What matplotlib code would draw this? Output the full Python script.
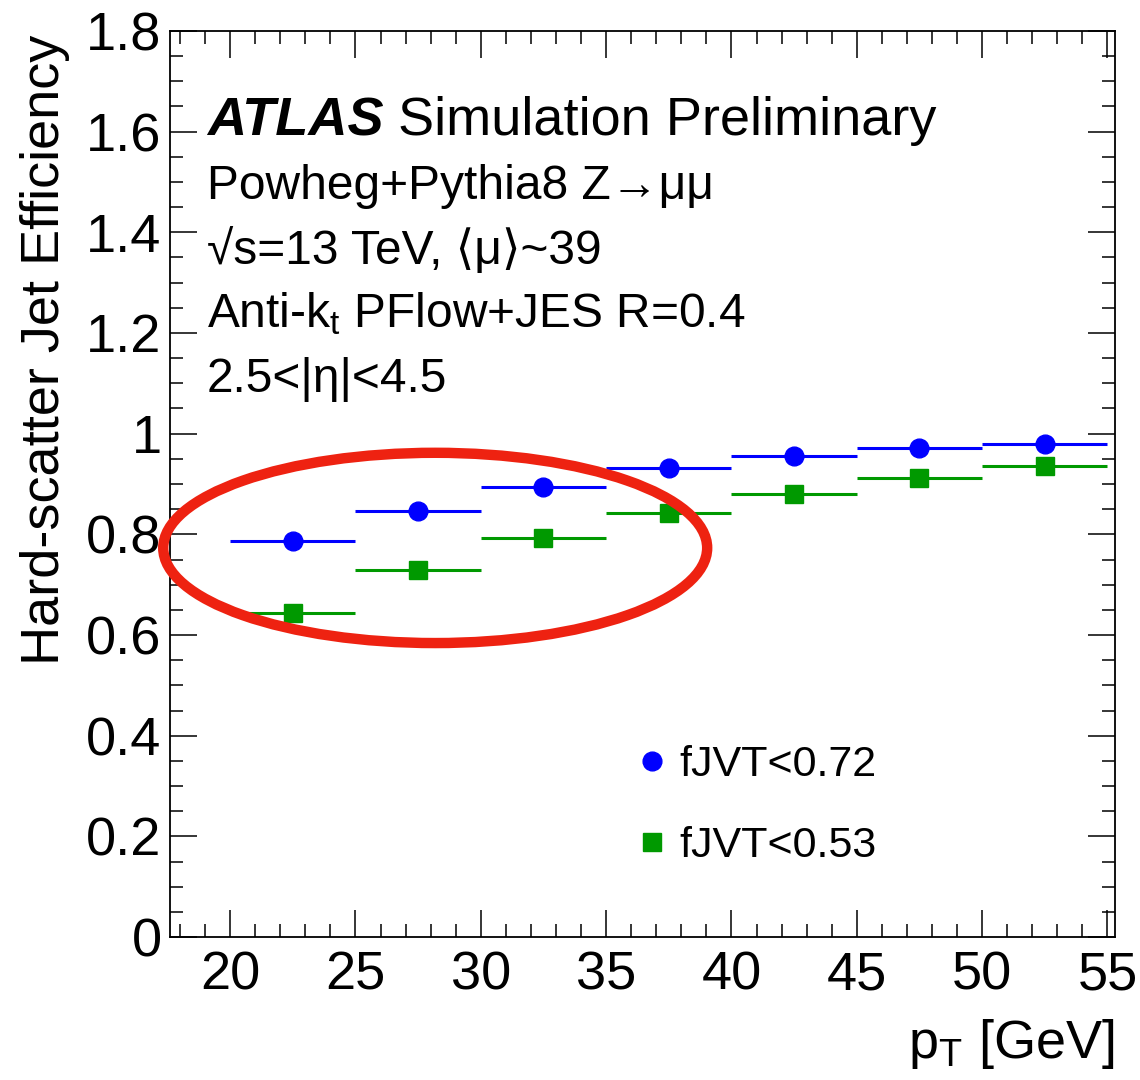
import matplotlib
matplotlib.use("Agg")
import matplotlib.pyplot as plt
from matplotlib.patches import Ellipse
from matplotlib.lines import Line2D
from matplotlib.ticker import MultipleLocator

plt.rcParams['font.family'] = ['Liberation Sans', 'DejaVu Sans']
plt.rcParams['mathtext.fontset'] = 'custom'
plt.rcParams['mathtext.rm'] = 'Liberation Sans'
plt.rcParams['mathtext.it'] = 'Liberation Sans:italic'

# ---- data ----
bin_lo = [20, 25, 30, 35, 40, 45, 50]
bin_hi = [25, 30, 35, 40, 45, 50, 55]
eff_072 = [0.787, 0.847, 0.895, 0.932, 0.956, 0.972, 0.980]
eff_053 = [0.644, 0.730, 0.793, 0.843, 0.881, 0.911, 0.936]
label_072 = "fJVT<0.72"
label_053 = "fJVT<0.53"
x_ticks = [20, 25, 30, 35, 40, 45, 50, 55]
y_ticks = [0, 0.2, 0.4, 0.6, 0.8, 1.0, 1.2, 1.4, 1.6, 1.8]
y_ticklabels = ["0", "0.2", "0.4", "0.6", "0.8", "1", "1.2", "1.4", "1.6", "1.8"]
# highlight ellipse (center x, center y, width, height) in data units
ell_cx, ell_cy, ell_w, ell_h = 28.18, 0.773, 21.7, 0.378

centers = [(a + b) / 2 for a, b in zip(bin_lo, bin_hi)]
half = [(b - a) / 2 for a, b in zip(bin_lo, bin_hi)]

fig = plt.figure(figsize=(11.4, 10.8), dpi=100)
ax = fig.add_axes([170/1140, 1 - 937/1080, 945/1140, 906/1080])

blue = '#0000ff'
green = '#009900'
ax.errorbar(centers, eff_072, xerr=half, fmt='o', color=blue, ms=13.5,
            elinewidth=2.2, capsize=0, zorder=3)
ax.errorbar(centers, eff_053, xerr=half, fmt='s', color=green, ms=13.5,
            elinewidth=2.2, capsize=0, zorder=3)

ax.set_xlim(17.6, 55.3)
ax.set_ylim(0, 1.8)
ax.set_xticks(x_ticks)
ax.set_yticks(y_ticks)
ax.set_yticklabels(y_ticklabels)
ax.xaxis.set_minor_locator(MultipleLocator(1))
ax.yaxis.set_minor_locator(MultipleLocator(0.05))
ax.tick_params(which='both', direction='in', top=True, right=True, width=1.1)
ax.tick_params(which='major', length=19.5, labelsize=39)
ax.tick_params(which='minor', length=9.5)
ax.tick_params(axis='x', which='major', pad=10)
ax.tick_params(axis='y', which='major', pad=6)
for s in ax.spines.values():
    s.set_linewidth(1.3)

ax.text(-0.132, 0.996, "Hard-scatter Jet Efficiency", rotation=90,
        ha='center', va='top', fontsize=39, transform=ax.transAxes)
ax.text(1.0, -0.1336, r"$\mathrm{p}_{\mathrm{T}}$ [GeV]", ha='right', va='baseline',
        fontsize=39, transform=ax.transAxes)

tx = 0.039
ax.text(tx, 0.885, "ATLAS", fontsize=39, fontweight='bold', fontstyle='italic',
        transform=ax.transAxes, va='baseline')
ax.text(0.241, 0.885, "Simulation Preliminary", fontsize=39,
        transform=ax.transAxes, va='baseline')
ax.text(tx, 0.815, "Powheg+Pythia8 Z→μμ", fontsize=34.5,
        transform=ax.transAxes, va='baseline')
ax.text(tx, 0.743, "√s=13 TeV, ⟨μ⟩~39", fontsize=34.5,
        transform=ax.transAxes, va='baseline')
ax.text(tx, 0.673, r"Anti-$\mathrm{k}_{\mathrm{t}}$ PFlow+JES R=0.4", fontsize=34.5,
        transform=ax.transAxes, va='baseline')
ax.text(tx, 0.601, "2.5<|η|<4.5", fontsize=34.5,
        transform=ax.transAxes, va='baseline')

handles = [Line2D([], [], ls='none', marker='o', color=blue, ms=13.5),
           Line2D([], [], ls='none', marker='s', color=green, ms=13.5)]
ax.legend(handles, [label_072, label_053], loc='upper left',
          bbox_to_anchor=(0.442, 0.255), frameon=False, fontsize=31,
          labelspacing=0.95, handletextpad=0.03, handlelength=1.2)

ell = Ellipse((ell_cx, ell_cy), ell_w, ell_h, fill=False, ec='#ee2211',
              lw=7.5, clip_on=False, zorder=4)
ax.add_patch(ell)

fig.savefig("out.png", dpi=100)
